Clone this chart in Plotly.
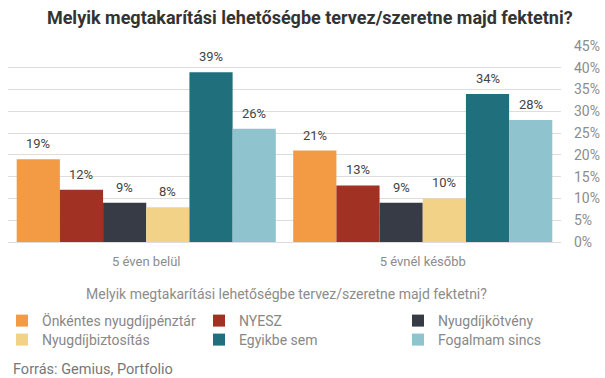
import plotly.graph_objects as go

categories = ["5 éven belül", "5 évnél később"]
series_names = ["Önkéntes nyugdíjpénztár", "NYESZ", "Nyugdíjkötvény",
                "Nyugdíjbiztosítás", "Egyikbe sem", "Fogalmam sincs"]
values = [
    [19, 21],
    [12, 13],
    [9, 9],
    [8, 10],
    [39, 34],
    [26, 28],
]
colors = ["#F39A45", "#A03123", "#363B45", "#F2D287", "#1F6F7D", "#8FC3CE"]
y_ticks = [0, 5, 10, 15, 20, 25, 30, 35, 40, 45]
y_tick_labels = [f"{v}%" for v in y_ticks]

title_text = "Melyik megtakarítási lehetőségbe tervez/szeretne majd fektetni?"
axis_title = "Melyik megtakarítási lehetőségbe tervez/szeretne majd fektetni?"
source_text = "Forrás: Gemius, Portfolio"

FONT = "Roboto"
PL, PR, PT, PB = 8, 44, 46, 136
W, H = 605, 378
PW, PH = W - PL - PR, H - PT - PB
BARGAP = 0.063
NS = len(series_names)
BAR_PX = PW / len(categories) * (1 - BARGAP) / NS

# legend grid (3 columns x 2 rows), pixel anchors of each column / row
LEG_COL_X = [2, 199, 398]
LEG_ROW_Y = [321, 340]


def px_x(x):
    return (x - PL) / PW


def px_y(y):
    return (H - PB - y) / PH


fig = go.Figure()
annotations = []
legends = {}
for j, (name, vals, col) in enumerate(zip(series_names, values, colors)):
    leg_id = "legend" if j == 0 else f"legend{j + 1}"
    fig.add_trace(go.Bar(
        x=categories, y=vals, name=name, marker_color=col, marker_line_width=0,
        legend=leg_id, showlegend=True,
    ))
    legends[leg_id] = dict(
        orientation="h", xref="container", yref="container",
        x=LEG_COL_X[j % 3] / W, y=1 - LEG_ROW_Y[j // 3] / H,
        xanchor="left", yanchor="middle", itemwidth=30,
        bgcolor="rgba(0,0,0,0)", visible=True,
        font=dict(family=FONT, size=14, color="#888888"),
    )
    for cat, v in zip(categories, vals):
        annotations.append(dict(
            text=f"{v}%", x=cat, y=v, xref="x", yref="y",
            xshift=(j - (NS - 1) / 2) * BAR_PX, yshift=6,
            xanchor="center", yanchor="bottom", showarrow=False,
            font=dict(family=FONT, size=13, color="#444444"),
        ))

annotations += [
    dict(text=axis_title, xref="paper", yref="paper", x=px_x(286), y=px_y(294),
         xanchor="center", yanchor="middle", showarrow=False,
         font=dict(family=FONT, size=14, color="#8C8C8C")),
    dict(text=source_text, xref="paper", yref="paper", x=px_x(11), y=px_y(370),
         xanchor="left", yanchor="middle", showarrow=False,
         font=dict(family=FONT, size=14.5, color="#777777")),
]

fig.update_layout(
    width=W, height=H,
    showlegend=True,
    margin=dict(l=PL, r=PR, t=PT, b=PB, autoexpand=False),
    paper_bgcolor="white", plot_bgcolor="white",
    barmode="group", bargap=BARGAP, bargroupgap=0,
    font=dict(family=FONT, color="#777777"),
    title=dict(text=f"<b>{title_text}</b>", x=0.512, xanchor="center",
               y=1 - 18 / H, yanchor="middle",
               font=dict(family=FONT, size=18, color="#333333")),
    xaxis=dict(showgrid=False, showline=False, ticks="", ticklabelstandoff=10,
               tickfont=dict(family=FONT, size=13, color="#8C8C8C")),
    yaxis=dict(side="right", range=[0, 45], tickvals=y_ticks, ticktext=y_tick_labels,
               showgrid=True, gridcolor="#DDDDDD", gridwidth=1, zeroline=True,
               zerolinecolor="#DDDDDD", zerolinewidth=1, ticklabelstandoff=12,
               tickfont=dict(family=FONT, size=14, color="#8C8C8C")),
    annotations=annotations,
    **legends,
)

fig.write_html("out.html", config={"displayModeBar": False},
               post_script="document.body.style.margin='0';")
